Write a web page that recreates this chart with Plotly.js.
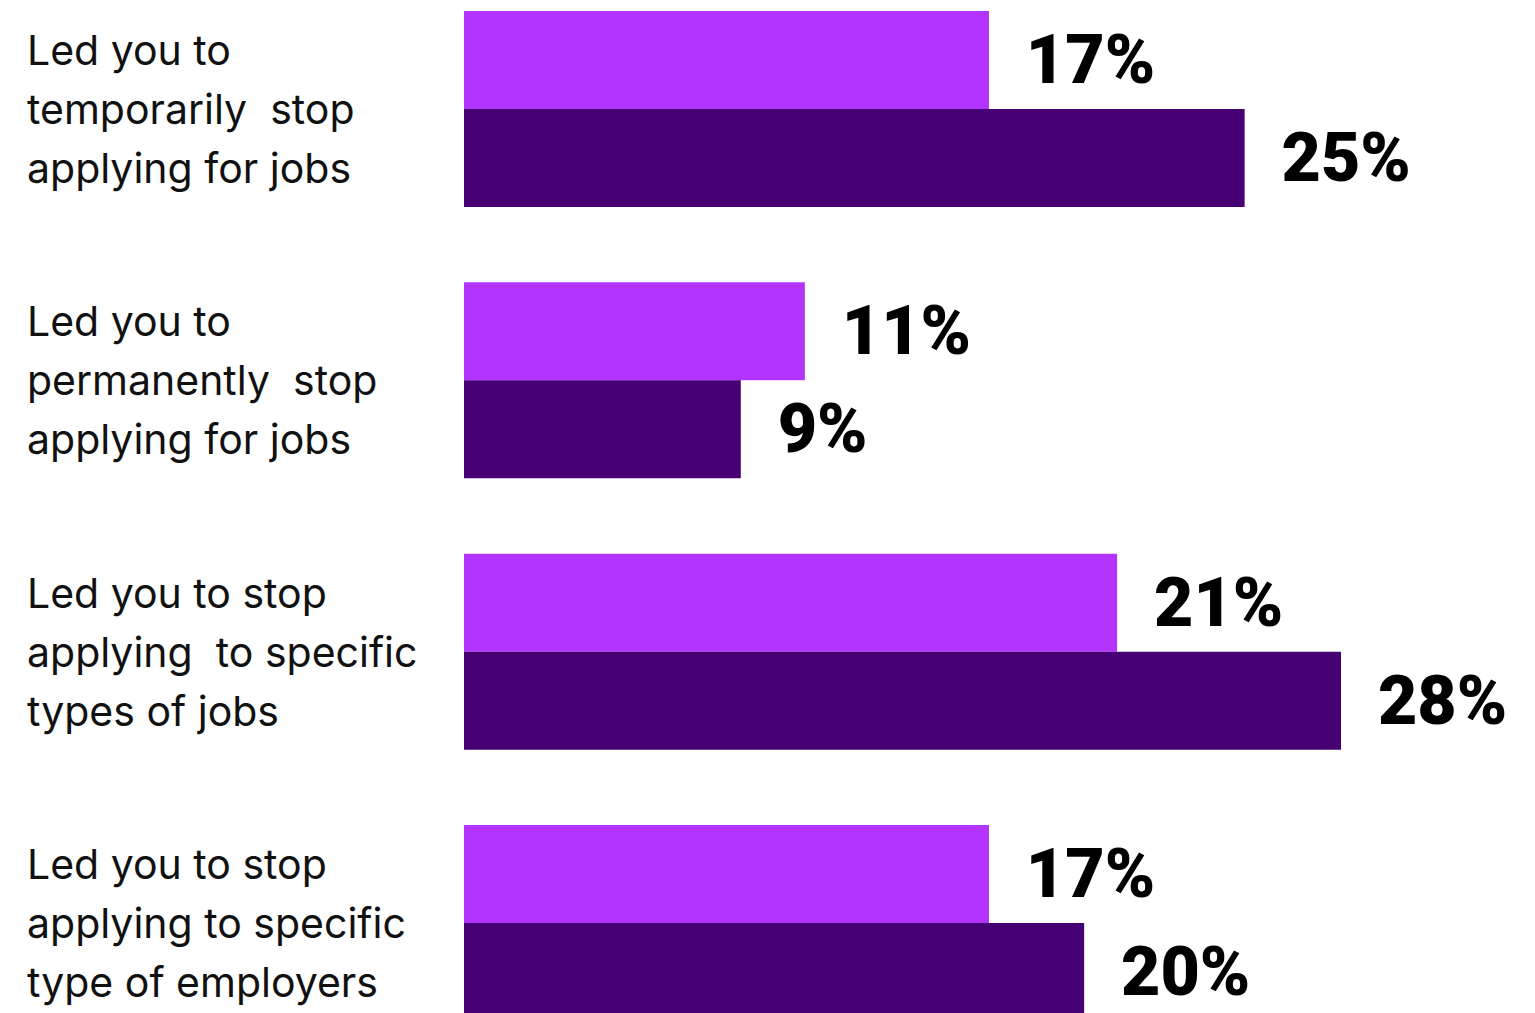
<!DOCTYPE html>
<html>
<head>
<meta charset="utf-8">
<script src="https://cdn.plot.ly/plotly-3.0.1.min.js"></script>
<style>html,body{margin:0;padding:0;background:#fff;}#chart{width:1535px;height:1013px;}</style>
</head>
<body>
<div id="chart"></div>
<script>
// Categories (each split into its display lines)
var categories = ["temporarily", "permanently", "specific jobs", "specific employers"];
var categoryLines = [
  ["Led you to", "temporarily\u00a0 stop", "applying for jobs"],
  ["Led you to", "permanently\u00a0 stop", "applying for jobs"],
  ["Led you to stop", "applying\u00a0 to specific", "types of jobs"],
  ["Led you to stop", "applying to specific", "type of employers"]
];
// Series values and their printed labels
var seriesLightValues = [16.88, 10.96, 21.0, 16.88];
var seriesLightLabels = ["17%", "11%", "21%", "17%"];
var seriesDarkValues = [25.1, 8.9, 28.2, 19.94];
var seriesDarkLabels = ["25%", "9%", "28%", "20%"];

var lightColor = "#B334FF";
var darkColor = "#460073";
var pctFont = {family: "Roboto, sans-serif", size: 68, color: "#000000", weight: 900};

var traces = [
  {type: "bar", orientation: "h", y: categories, x: seriesLightValues,
   text: seriesLightLabels, texttemplate: "\u00a0\u00a0%{text}", textposition: "outside",
   constraintext: "none", cliponaxis: false, textfont: pctFont,
   marker: {color: lightColor, line: {width: 0}}, hoverinfo: "none"},
  {type: "bar", orientation: "h", y: categories, x: seriesDarkValues,
   text: seriesDarkLabels, texttemplate: "\u00a0\u00a0%{text}", textposition: "outside",
   constraintext: "none", cliponaxis: false, textfont: pctFont,
   marker: {color: darkColor, line: {width: 0}}, hoverinfo: "none"}
];

var annotations = [];
categoryLines.forEach(function (lines, ci) {
  var mid = (lines.length - 1) / 2;
  lines.forEach(function (line, li) {
    annotations.push({
      xref: "paper", yref: "y", x: 0, y: ci,
      xanchor: "left", yanchor: "middle", xshift: -439, yshift: (mid - li) * 59,
      text: line, showarrow: false, align: "left",
      font: {family: "Inter, sans-serif", size: 41, color: "#111111"}
    });
  });
});

var layout = {
  width: 1535, height: 1013,
  margin: {l: 464, r: 0, t: 0, b: 0, pad: 0},
  paper_bgcolor: "#ffffff", plot_bgcolor: "#ffffff",
  barmode: "group", bargap: 0.2776, bargroupgap: 0,
  showlegend: false,
  xaxis: {range: [0, 34.437], showgrid: false, zeroline: false, showticklabels: false, showline: false, ticks: ""},
  yaxis: {type: "category", categoryorder: "array", categoryarray: categories,
          range: [3.3317, -0.4017], showgrid: false, zeroline: false, showticklabels: false, showline: false, ticks: ""},
  annotations: annotations
};

Plotly.newPlot("chart", traces, layout, {displayModeBar: false, staticPlot: true});
</script>
</body>
</html>
